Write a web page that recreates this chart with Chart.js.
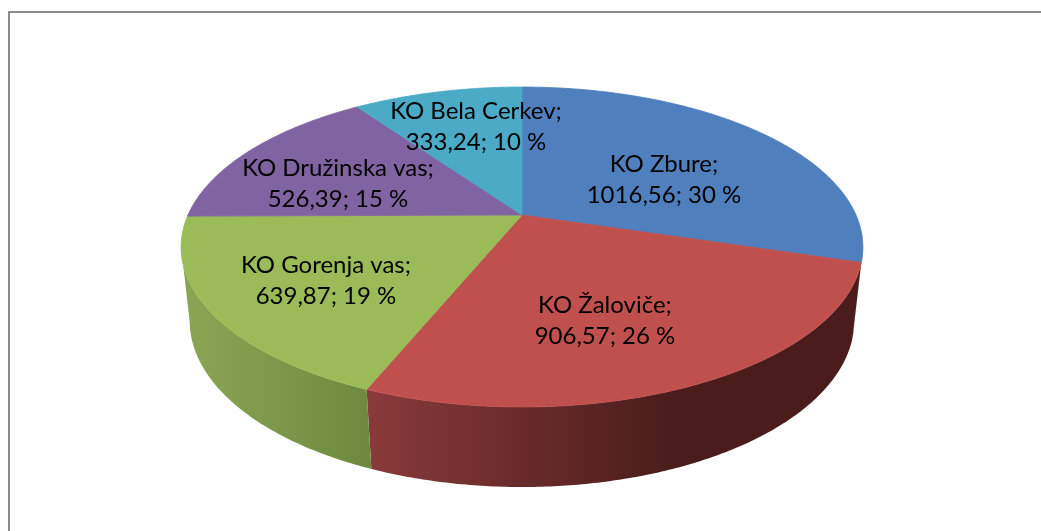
<!DOCTYPE html>
<html><head><meta charset="utf-8">
<style>html,body{margin:0;padding:0;background:#fff}canvas{display:block}</style>
<script src="https://cdn.jsdelivr.net/npm/chart.js@4"></script>
</head><body><canvas id="c" width="1041" height="531"></canvas>
<script>
const categories = ["KO Zbure","KO Žaloviče","KO Gorenja vas","KO Družinska vas","KO Bela Cerkev"];
const areas = [1016.56, 906.57, 639.87, 526.39, 333.24];
const valueLabels = ["1016,56","906,57","639,87","526,39","333,24"];
const percentLabels = ["30 %","26 %","19 %","15 %","10 %"];
const topColors = ["#4f7fbc","#c0504d","#9bbb59","#8064a2","#4baac5"];
const wallStart = ["#4a70a5","#8a3a3a","#8aa655","#5c4876","#367b8e"];
const wallEnd   = ["#4a70a5","#4a1d1c","#6e8a3e","#5c4876","#367b8e"];
const wallStop  = [1,0.61,1,1,1];
const labelCenters = [[664,164],[605,305],[326,265],[338,168],[476,111]];

// perspective of the tilted disc, relative to the radius chart.js computes
const top3d = {sx:1.5535, sy:0.7144, dy:0,    p:0.2};
const bot3d = {sx:1.5163, sy:0.7442, dy:73.5, p:0.194};
function project(arc, a, d){
  const u=Math.cos(a), v=Math.sin(a), w=1-d.p*v, r=arc.outerRadius;
  return [arc.x + r*d.sx*u/w, arc.y + d.dy + r*d.sy*v/w];
}
function rim(ctx, arc, a0, a1, d, move){
  const n=Math.max(2,Math.ceil(Math.abs(a1-a0)/0.01));
  for(let i=0;i<=n;i++){
    const p=project(arc,a0+(a1-a0)*i/n,d);
    if(i===0&&move) ctx.moveTo(p[0],p[1]); else ctx.lineTo(p[0],p[1]);
  }
}
const pie3d = {
  id:'pie3d',
  beforeDraw(chart){
    const c=chart.ctx;
    c.save();
    c.fillStyle='#fff';c.fillRect(0,0,1041,531);
    c.strokeStyle='#8c8c8c';c.lineWidth=2;
    c.beginPath();c.moveTo(9,531);c.lineTo(9,12);c.lineTo(1041,12);c.stroke();
    c.restore();
  },
  beforeDatasetDraw(chart){
    const c=chart.ctx, arcs=chart.getDatasetMeta(0).data;
    c.save();
    // walls run between the two silhouette tangents of the disc
    const lo=Math.asin(top3d.p), hi=Math.PI-lo;
    arcs.forEach((arc,i)=>{
      const s=Math.max(arc.startAngle,lo), e=Math.min(arc.endAngle,hi);
      if(e<=s) return;
      const p0=project(arc,s,top3d), p1=project(arc,e,top3d);
      const g=c.createLinearGradient(Math.min(p0[0],p1[0]),0,Math.max(p0[0],p1[0]),0);
      g.addColorStop(0,wallStart[i]);g.addColorStop(wallStop[i],wallEnd[i]);
      c.fillStyle=g;
      c.beginPath();
      rim(c,arc,s,e,top3d,true);
      rim(c,arc,e,s,bot3d,false);
      c.closePath();c.fill();
    });
    // top faces
    arcs.forEach((arc,i)=>{
      c.fillStyle=arc.options.backgroundColor;
      c.strokeStyle=arc.options.backgroundColor;c.lineWidth=0.8;
      c.beginPath();c.moveTo(arc.x,arc.y);
      rim(c,arc,arc.startAngle,arc.endAngle,top3d,false);
      c.closePath();c.fill();c.stroke();
    });
    c.restore();
    return false;
  },
  afterDatasetsDraw(chart){
    const c=chart.ctx;
    c.save();
    c.fillStyle='#000';c.font='24px Lato';c.textAlign='center';c.textBaseline='middle';
    categories.forEach((name,i)=>{
      const [x,y]=labelCenters[i];
      c.fillText(name+';',x,y);
      c.fillText(valueLabels[i]+'; '+percentLabels[i],x,y+31.5);
    });
    c.restore();
  }
};
new Chart(document.getElementById('c'),{
  type:'pie',
  data:{labels:categories,datasets:[{data:areas,backgroundColor:topColors,borderWidth:0}]},
  options:{responsive:false,animation:false,devicePixelRatio:1,
    layout:{padding:{left:3,bottom:101}},
    plugins:{legend:{display:false},tooltip:{enabled:false}}},
  plugins:[pie3d]
});
</script></body></html>
